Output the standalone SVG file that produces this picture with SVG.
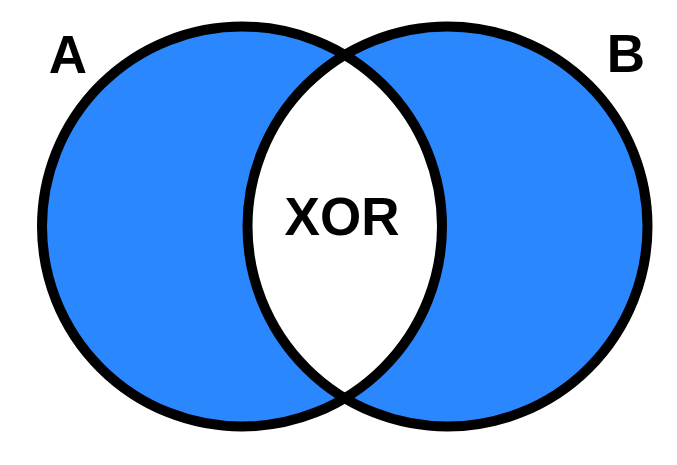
<svg xmlns="http://www.w3.org/2000/svg" width="677" height="465" viewBox="0 0 677 465">
<style>
.fill{fill:#2a87fd;stroke:none}
.ring{fill:none;stroke:#000;stroke-width:10}
.lbl{font-family:"Liberation Sans",Arial,sans-serif;font-weight:bold;font-size:53px;fill:#000;text-anchor:middle}
</style>
<rect width="677" height="465" fill="#fff"/>
<g id="setA">
<circle class="fill" cx="242" cy="226.5" r="200"/>
</g>
<g id="setB">
<circle class="fill" cx="447.5" cy="226.5" r="200"/>
</g>
<g id="xor-lens">
<path d="M344.75,54.91 A200,200 0 0 0 344.75,398.09 A200,200 0 0 0 344.75,54.91 Z" fill="#fff"/>
</g>
<g id="outlines">
<circle class="ring" cx="242" cy="226.5" r="200"/>
<circle class="ring" cx="447.5" cy="226.5" r="200"/>
</g>
<g id="labels">
<text class="lbl" x="68" y="73">A</text>
<text class="lbl" x="626" y="72">B</text>
<text class="lbl" x="342" y="235" font-size="52">XOR</text>
</g>
</svg>
